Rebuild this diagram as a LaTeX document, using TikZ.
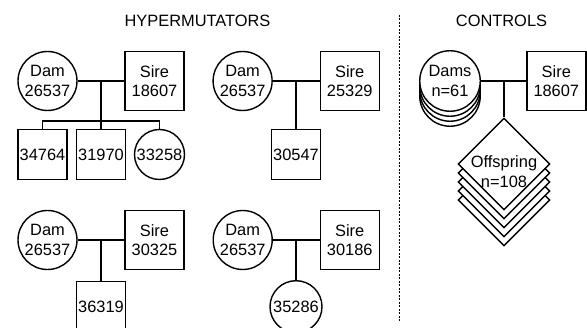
\documentclass[tikz,border=0pt]{standalone}
\usepackage{fontspec}
\setmainfont{Liberation Sans}
\usetikzlibrary{shapes.geometric}
\begin{document}
\begin{tikzpicture}[x=1pt,y=-1pt, line width=1.4pt,
  every node/.style={font=\fontsize{16.4}{19.5}\selectfont, align=center, inner sep=0pt},
  fem/.style={circle, draw, fill=white, minimum size=59pt},
  mal/.style={rectangle, draw, fill=white, minimum width=59pt, minimum height=59pt},
  kidf/.style={circle, draw, fill=white, minimum size=50pt},
  kidm/.style={rectangle, draw, fill=white, minimum width=49pt, minimum height=50pt},
  dia/.style={diamond, draw, fill=white, minimum width=92pt, minimum height=92pt},
  divider/.style={line width=1.4pt, dash pattern=on 2pt off 1.5pt}]
\useasboundingbox (0,0) rectangle (587,328);

% titles
\node (hyp) at (197.5,21) {HYPERMUTATORS};
\node (ctl) at (501.5,21) {CONTROLS};

% divider
\coordinate (dvt) at (399.3,15);
\coordinate (dvb) at (399.3,323);
\draw[divider] (dvt) -- (dvb);

% family 1
\node[fem] (dam1) at (47.5,81) {Dam\\26537};
\node[mal] (sire1) at (154.5,81) {Sire\\18607};
\coordinate (m1) at (101,81);
\coordinate (s1) at (101,121);
\node[kidm] (k11) at (42.5,154.5) {34764};
\node[kidm] (k12) at (101,154.5) {31970};
\node[kidf] (k13) at (159.5,154.5) {33258};
\draw (dam1) -- (sire1);
\draw (m1) -- (s1);
\draw (k11.north) |- (s1) -| (k13.north);
\draw (s1) -- (k12.north);

% family 2
\node[fem] (dam2) at (242.6,81) {Dam\\26537};
\node[mal] (sire2) at (349.7,81) {Sire\\25329};
\coordinate (m2) at (296,81);
\node[kidm] (k21) at (296,154.5) {30547};
\draw (dam2) -- (sire2);
\draw (m2) -- (k21.north);

% family 3
\node[fem] (dam3) at (47.5,240) {Dam\\26537};
\node[mal] (sire3) at (154.5,240) {Sire\\30325};
\coordinate (m3) at (101,240);
\node[kidm] (k31) at (101,306.5) {36319};
\draw (dam3) -- (sire3);
\draw (m3) -- (k31.north);

% family 4
\node[fem] (dam4) at (242.7,240) {Dam\\26537};
\node[mal] (sire4) at (349.7,240) {Sire\\30186};
\coordinate (m4) at (296,240);
\node[kidf, minimum size=52pt] (k41) at (296,306.7) {35286};
\draw (dam4) -- (sire4);
\draw (m4) -- (k41.north);

% controls
\foreach \i in {3,2,1}{
  \node[fem, minimum size=60.5pt] (dams\i) at (450,81+5*\i) {};
}
\node[fem, minimum size=60.5pt] (dams) at (450,81) {Dams\\n=61};
\node[mal] (sire5) at (556.3,81) {Sire\\18607};
\coordinate (m5) at (504,81);
\foreach \i in {4,3,2,1}{
  \node[dia] (off\i) at (504,164+9*\i) {};
}
\node[dia] (off) at (504,164) {};
\node (offtxt) at (504,171.5) {Offspring\\n=108};
\draw (dams) -- (sire5);
\draw (m5) -- (off.north);
\end{tikzpicture}
\end{document}
